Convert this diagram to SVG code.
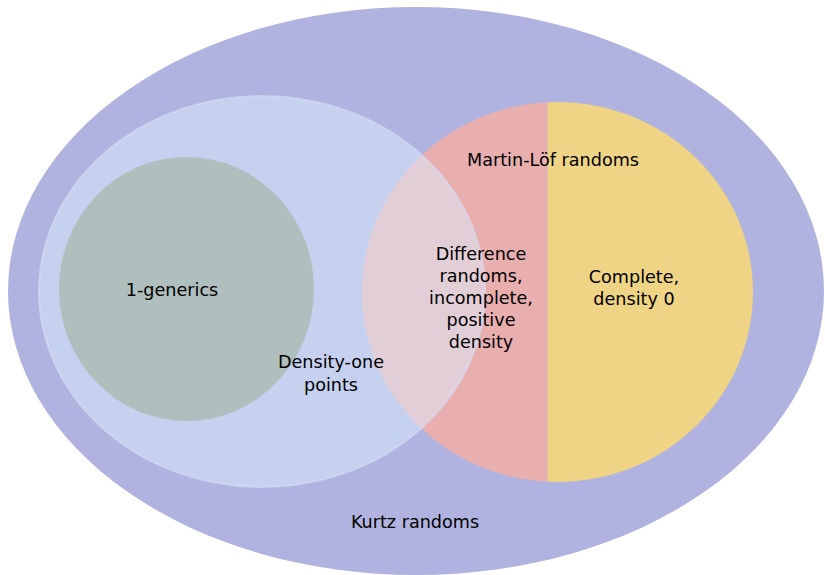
<svg xmlns="http://www.w3.org/2000/svg" width="825" height="575" viewBox="0 0 825 575">
<style>
text{font-family:"DejaVu Sans",sans-serif;font-size:17.6px;fill:#000;text-anchor:middle}
</style>
<defs>
<clipPath id="mlclip"><ellipse cx="557.5" cy="292" rx="195.5" ry="190"/></clipPath>
</defs>
<g id="kurtz">
<ellipse cx="416" cy="291" rx="408" ry="284" fill="#b0b3df"/>
</g>
<g id="martin-lof">
<g clip-path="url(#mlclip)">
<rect x="360" y="100" width="187.5" height="385" fill="#e9aeae"/>
<rect x="547.5" y="100" width="210" height="385" fill="#eed484"/>
</g>
</g>
<g id="density-one">
<ellipse cx="262" cy="291.5" rx="223" ry="195.5" fill="#dceeff" fill-opacity="0.5" stroke="#d6def5" stroke-opacity="0.6" stroke-width="2"/>
</g>
<g id="generics">
<ellipse cx="186.5" cy="289" rx="127.5" ry="132" fill="#afbfbe"/>
</g>
<g id="labels">
<text x="415" y="528">Kurtz randoms</text>
<text x="553" y="165.5">Martin-Löf randoms</text>
<text x="331" y="367.5">Density-one</text>
<text x="331" y="390.5">points</text>
<text x="172" y="295.5">1-generics</text>
<text x="481" y="259.5">Difference</text>
<text x="481" y="281.5">randoms,</text>
<text x="481" y="303.5">incomplete,</text>
<text x="481" y="326">positive</text>
<text x="481" y="348">density</text>
<text x="634" y="282.5">Complete,</text>
<text x="634" y="304.5">density 0</text>
</g>
<g id="connectors"></g>
</svg>
